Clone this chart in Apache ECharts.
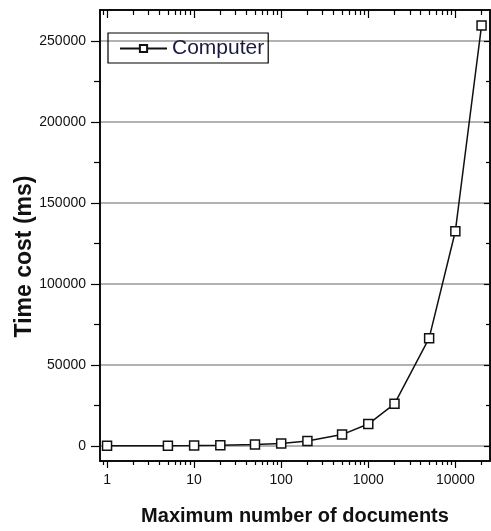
<!DOCTYPE html>
<html>
<head>
<meta charset="utf-8">
<script src="https://cdn.jsdelivr.net/npm/echarts@6/dist/echarts.min.js"></script>
<style>
  html, body { margin: 0; padding: 0; background: #fff; }
  #chart { width: 491px; height: 531px; }
</style>
</head>
<body>
<div id="chart"></div>
<script>
// documents vs time cost (ms)
const docs = [1, 5, 10, 20, 50, 100, 200, 500, 1000, 2000, 5000, 10000, 20000];
const timeCost = [100, 150, 250, 400, 900, 1500, 3000, 7000, 13500, 26000, 66500, 132500, 259500];

const xMajorTicks = [1, 10, 100, 1000, 10000];
const xMinorTicks = [0.9, 2, 3, 4, 5, 6, 7, 8, 9, 20, 30, 40, 50, 60, 70, 80, 90,
    200, 300, 400, 500, 600, 700, 800, 900, 2000, 3000, 4000, 5000, 6000, 7000, 8000, 9000, 20000];
const yMajorTicks = [0, 50000, 100000, 150000, 200000, 250000];
const yMinorTicks = [25000, 75000, 125000, 175000, 225000];

const X_MIN = 0.83, X_MAX = 25000;
const Y_MIN = -9300, Y_MAX = 269000;

const sans = "'Liberation Sans', Arial, sans-serif";

function plain(v) {
    return String(v);
}

function xAxisCfg(pos, ticks, len, inside, withLabel) {
    return {
        type: 'log',
        logBase: 10,
        position: pos,
        min: X_MIN,
        max: X_MAX,
        axisLine: { show: true, onZero: false, lineStyle: { color: '#000', width: 1.5 } },
        axisTick: { show: true, inside: inside, length: len, customValues: ticks, lineStyle: { color: '#000', width: 1.2 } },
        axisLabel: withLabel ? {
            show: true, customValues: xMajorTicks, margin: 12, formatter: plain,
            color: '#111', fontFamily: sans, fontSize: 14
        } : { show: false },
        splitLine: { show: false },
        minorTick: { show: false }
    };
}

function yAxisCfg(pos, ticks, len, inside, withLabel, grid) {
    return {
        type: 'value',
        position: pos,
        min: Y_MIN,
        max: Y_MAX,
        axisLine: { show: true, onZero: false, lineStyle: { color: '#000', width: 1.5 } },
        axisTick: { show: true, inside: inside, length: len, customValues: ticks, lineStyle: { color: '#000', width: 1.2 } },
        axisLabel: withLabel ? {
            show: true, customValues: yMajorTicks, margin: 14, formatter: plain,
            color: '#111', fontFamily: sans, fontSize: 14
        } : { show: false },
        splitLine: { show: grid, lineStyle: { color: '#999', width: 1.5 } }
    };
}

const chart = echarts.init(document.getElementById('chart'));

const xBottom = xAxisCfg('bottom', xMajorTicks, 7, false, true);
xBottom.name = 'Maximum number of documents';
xBottom.nameLocation = 'middle';
xBottom.nameGap = 45;
xBottom.nameMoveOverlap = false;
xBottom.nameTextStyle = { color: '#111', fontFamily: sans, fontSize: 20, fontWeight: 'bold' };

const yLeft = yAxisCfg('left', yMajorTicks, 9, false, true, true);
yLeft.name = 'Time cost (ms)';
yLeft.nameLocation = 'middle';
yLeft.nameGap = 64;
yLeft.nameMoveOverlap = false;
yLeft.nameTextStyle = { color: '#111', fontFamily: sans, fontSize: 23, fontWeight: 'bold', padding: [0, 42, 0, 0] };

const options = {
    animation: false,
    backgroundColor: '#fff',
    grid: { left: 100, right: 1, top: 10, bottom: 70, containLabel: false, outerBoundsMode: 'none' },
    legend: {
        left: 108,
        top: 33,
        orient: 'horizontal',
        borderColor: '#000',
        borderWidth: 1.2,
        padding: [5, 4, 4, 11],
        itemWidth: 47,
        itemHeight: 9,
        itemGap: 7,
        textStyle: { color: '#1a1a40', fontFamily: sans, fontSize: 21 },
        data: ['Computer']
    },
    xAxis: [
        xBottom,
        xAxisCfg('bottom', xMinorTicks, 4, false, false),
        xAxisCfg('top', xMajorTicks, 8, true, false),
        xAxisCfg('top', xMinorTicks, 5, true, false)
    ],
    yAxis: [
        yLeft,
        yAxisCfg('left', yMinorTicks, 6, false, false, false),
        yAxisCfg('right', yMajorTicks, 6, true, false, false),
        yAxisCfg('right', yMinorTicks, 4, true, false, false)
    ],
    series: [{
        name: 'Computer',
        type: 'line',
        xAxisIndex: 0,
        yAxisIndex: 0,
        data: docs.map((d, i) => [d, timeCost[i]]),
        symbol: 'rect',
        symbolSize: 9,
        showAllSymbol: true,
        lineStyle: { color: '#111', width: 1.5 },
        itemStyle: { color: '#fff', borderColor: '#111', borderWidth: 1.5 }
    }]
};

chart.setOption(options, true);
</script>
</body>
</html>
